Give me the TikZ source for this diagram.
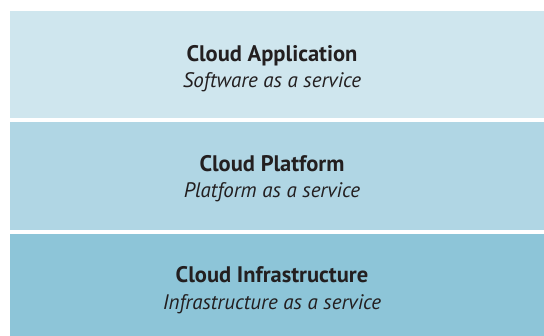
\documentclass[tikz,border=0pt]{standalone}
\usepackage{fontspec}
\setmainfont{PT Sans}
\definecolor{bandA}{HTML}{CFE6EE}
\definecolor{bandB}{HTML}{B0D6E4}
\definecolor{bandC}{HTML}{8DC5D8}
\definecolor{txt}{HTML}{231F20}
\begin{document}
\begin{tikzpicture}[x=1pt,y=-1pt,
  band/.style={draw=none,inner sep=0pt,outer sep=0pt,anchor=north west,minimum width=534pt},
  ttl/.style={anchor=base,font=\fontsize{22.5}{26}\selectfont\bfseries,text=txt,inner sep=0pt},
  sub/.style={anchor=base,font=\fontsize{21}{25}\selectfont\itshape,text=txt,inner sep=0pt}]
\useasboundingbox[fill=white] (0,0) rectangle (544,336);
\node[band,fill=bandA,minimum height=107pt] (b1) at (10,11) {};
\node[band,fill=bandB,minimum height=108pt] (b2) at (10,122) {};
\node[band,fill=bandC,minimum height=102pt] (b3) at (10,234) {};
\node[ttl] (t1) at (272,61.5) {Cloud Application};
\node[sub] (s1) at (272,88) {Software as a service};
\node[ttl] (t2) at (272,171.5) {Cloud Platform};
\node[sub] (s2) at (272,198) {Platform as a service};
\node[ttl] (t3) at (272,283) {Cloud Infrastructure};
\node[sub] (s3) at (272,310) {Infrastructure as a service};
\end{tikzpicture}
\end{document}
